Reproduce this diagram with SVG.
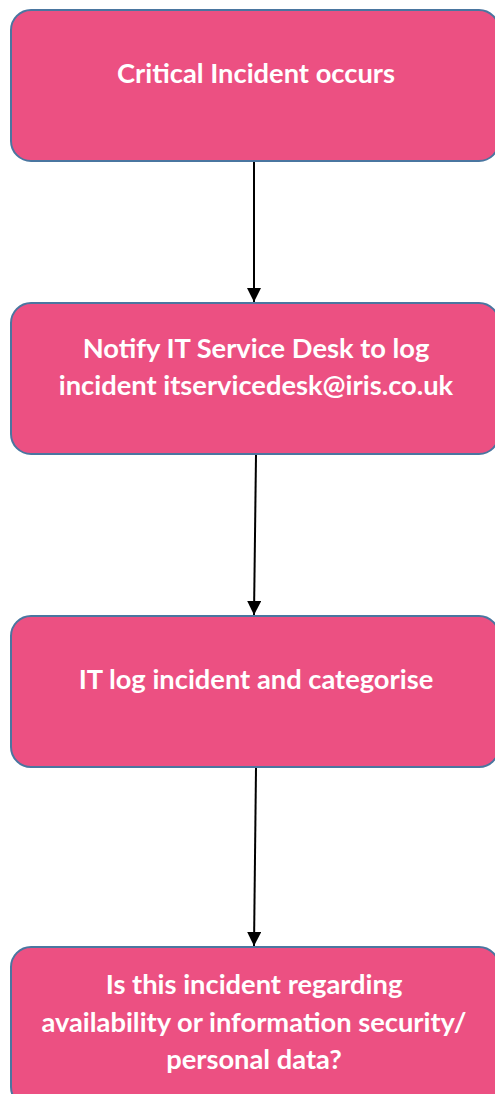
<svg xmlns="http://www.w3.org/2000/svg" width="495" height="1094" viewBox="0 0 495 1094">
<style>
.box{fill:#EC5082;stroke:#4A76A0;stroke-width:2}
.t{font-family:Lato,"Open Sans","Liberation Sans",sans-serif;font-weight:bold;font-size:27.3px;fill:#fff;text-anchor:middle}
.c{stroke:#000;stroke-width:2;fill:none}
</style>
<defs>
<marker id="ah" markerWidth="14" markerHeight="14" refX="14" refY="7" orient="auto" markerUnits="userSpaceOnUse" viewBox="0 0 14 14">
<path d="M0,0 L14,7 L0,14 Z" fill="#000"/>
</marker>
</defs>
<g id="connectors">
<line class="c" x1="254" y1="162" x2="254" y2="302" marker-end="url(#ah)"/>
<line class="c" x1="256" y1="455" x2="254" y2="615" marker-end="url(#ah)"/>
<line class="c" x1="256" y1="768" x2="254" y2="946" marker-end="url(#ah)"/>
</g>
<g id="n1">
<rect class="box" x="11" y="10" width="488" height="151" rx="20"/>
<text class="t" x="256" y="83">Critical Incident occurs</text>
</g>
<g id="n2">
<rect class="box" x="11" y="303" width="488" height="151" rx="20"/>
<text class="t" x="256" y="358">Notify IT Service Desk to log</text>
<text class="t" x="256" y="395">incident itservicedesk@iris.co.uk</text>
</g>
<g id="n3">
<rect class="box" x="11" y="616" width="488" height="151" rx="20"/>
<text class="t" x="256" y="689">IT log incident and categorise</text>
</g>
<g id="n4">
<rect class="box" x="11" y="947" width="488" height="160" rx="20"/>
<text class="t" x="254" y="994">Is this incident regarding</text>
<text class="t" x="254" y="1032">availability or information security/</text>
<text class="t" x="254" y="1069">personal data?</text>
</g>
</svg>
